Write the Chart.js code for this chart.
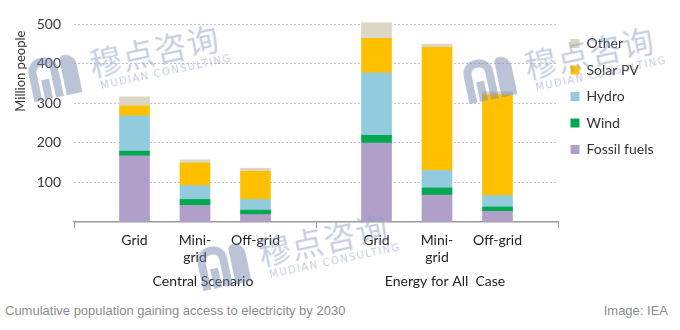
<!DOCTYPE html>
<html>
<head>
<meta charset="utf-8">
<script src="https://cdn.jsdelivr.net/npm/chart.js@4"></script>
<style>
  html, body { margin: 0; padding: 0; background: #fff; }
  #wrap { position: relative; width: 680px; height: 330px; overflow: hidden; }
  #chartBox { position: absolute; left: 0; top: 0; width: 680px; height: 300px; }
  .caption { position: absolute; top: 303px; font: 13px "Liberation Sans", Arial, sans-serif; color: #8c8c8c; }
  .wm { position: absolute; transform: rotate(-12deg); transform-origin: 0 0; pointer-events: none; white-space: nowrap; }
  .wm .logo { position: absolute; left: -6px; top: 8px; width: 50px; height: 42px; }
  .wm .logo div { position: absolute; bottom: 0; }
  .wm .arch { left: 0; width: 14px; height: 34px; border: 8px solid rgba(120,138,176,0.5); border-bottom: none; border-radius: 14px 14px 0 0; }
  .wm .leg { left: 11px; width: 8px; height: 20px; background: rgba(120,138,176,0.5); }
  .wm .bar { left: 33px; width: 16px; height: 40px; background: rgba(120,138,176,0.5); border-radius: 5px 12px 0 0; }
  .wm .cn { position: absolute; left: 56px; top: 0; font: 32px "Noto Sans CJK SC", sans-serif; color: rgba(140,160,196,0.5); letter-spacing: 1px; }
  .wm .en { position: absolute; left: 62px; top: 42px; font: 10px "DejaVu Sans", sans-serif; color: rgba(140,160,196,0.55); letter-spacing: 1.5px; }
</style>
</head>
<body>
<div id="wrap">
  <div id="chartBox"><canvas id="accessChart"></canvas></div>
  <div class="caption" style="left:5px;">Cumulative population gaining access to electricity by 2030</div>
  <div class="caption" style="right:12px;">Image: IEA</div>
</div>
<script>
// slot labels: empty slots separate the two scenario groups
const categories = ['', 'Grid', ['Mini-', 'grid'], 'Off-grid', '', 'Grid', ['Mini-', 'grid'], 'Off-grid', ''];
const groupNames = ['Central Scenario', 'Energy for All  Case'];
const groupCentres = [2, 6];
const yTicks = [100, 200, 300, 400, 500];

// million people, stacked bottom to top
const fossilFuels = [null, 167, 42, 19, null, 199, 68, 27, null];
const wind        = [null, 12, 15, 11, null, 20, 18, 11, null];
const hydro       = [null, 89, 35, 27, null, 158, 44, 29, null];
const solarPV     = [null, 25, 57, 71, null, 87, 311, 254, null];
const other       = [null, 23, 8, 8, null, 39, 8, 8, null];

const FONT = 'Lato, "Open Sans", sans-serif';

const groupLabels = {
  id: 'groupLabels',
  afterDraw(chart) {
    const { ctx, scales: { x } } = chart;
    ctx.save();
    ctx.font = '14px ' + FONT;
    ctx.fillStyle = '#222';
    ctx.textAlign = 'center';
    ctx.textBaseline = 'middle';
    groupNames.forEach((name, i) => {
      ctx.fillText(name, x.getPixelForValue(groupCentres[i]) + 8, 281);
    });
    ctx.restore();
  }
};

// keep the legend column a fixed width so the plot reaches x=558
const legendWidth = {
  id: 'legendWidth',
  beforeLayout(chart) {
    const legend = chart.legend;
    if (!legend || legend._fixedWidth) return;
    const fit = legend.fit;
    legend.fit = function () {
      fit.call(this);
      this.width = 122;
    };
    legend._fixedWidth = true;
  }
};

const ds = (label, data, color) => ({
  label, data, backgroundColor: color, borderWidth: 0, barThickness: 30, clip: false
});

new Chart(document.getElementById('accessChart'), {
  type: 'bar',
  data: {
    labels: categories,
    datasets: [
      ds('Fossil fuels', fossilFuels, '#b09fc9'),
      ds('Wind', wind, '#00a94f'),
      ds('Hydro', hydro, '#92cbdd'),
      ds('Solar PV', solarPV, '#ffc000'),
      ds('Other', other, '#dcd7c4')
    ]
  },
  options: {
    responsive: true,
    maintainAspectRatio: false,
    animation: false,
    layout: { padding: { top: 24, left: 8, right: 0, bottom: 0 } },
    plugins: {
      tooltip: { enabled: false },
      legend: {
        position: 'right',
        align: 'start',
        reverse: true,
        labels: {
          boxWidth: 9, boxHeight: 9, padding: 12.5,
          color: '#333', font: { family: FONT, size: 14 }
        }
      }
    },
    scales: {
      x: {
        stacked: true,
        offset: false,
        afterFit: (scale) => { scale.height = 78; },
        grid: {
          offset: false,
          drawOnChartArea: false,
          drawTicks: true,
          tickLength: 6,
          color: (c) => [0, 4, 8].includes(c.index) ? '#999' : 'rgba(0,0,0,0)'
        },
        border: { display: true, color: '#9a9a9a', width: 1.5 },
        ticks: {
          autoSkip: false, maxRotation: 0, padding: 4,
          color: '#222', font: { family: FONT, size: 14 }
        }
      },
      y: {
        stacked: true,
        min: 0,
        max: 500,
        afterFit: (scale) => { scale.width = 66; },
        afterBuildTicks: (scale) => { scale.ticks = [0, ...yTicks].map(v => ({ value: v })); },
        border: { display: false, dash: [2, 2] },
        grid: {
          drawTicks: false,
          color: (c) => c.tick.value === 0 ? 'rgba(0,0,0,0)' : '#c4c4c4'
        },
        ticks: {
          padding: 13,
          color: '#3a3a3a',
          font: { family: FONT, size: 14 },
          callback: (v) => v === 0 ? '' : v
        },
        title: {
          display: true, text: 'Million people\u00a0\u00a0', align: 'end',
          color: '#333', font: { family: FONT, size: 13 }, padding: { top: 5, bottom: 0 }
        }
      }
    }
  },
  plugins: [legendWidth, groupLabels]
});

// faint consulting watermark stamped three times
const marks = [[30, 52], [465, 54], [199, 241]];
const wrap = document.getElementById('wrap');
marks.forEach(([left, top]) => {
  const el = document.createElement('div');
  el.className = 'wm';
  el.style.left = left + 'px';
  el.style.top = top + 'px';
  el.innerHTML = '<div class="logo"><div class="arch"></div><div class="leg"></div><div class="bar"></div></div>' +
    '<div class="cn">穆点咨询</div><div class="en">MUDIAN CONSULTING</div>';
  wrap.appendChild(el);
});
</script>
</body>
</html>
